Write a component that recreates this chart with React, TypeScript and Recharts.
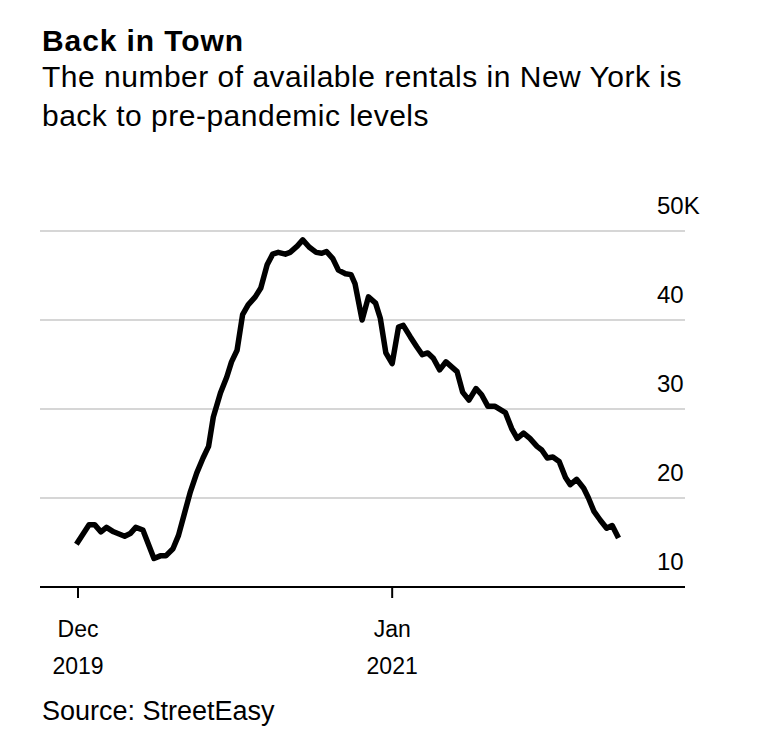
import { LineChart, Line, XAxis, YAxis, CartesianGrid } from 'recharts'

// Weekly count of available NYC rentals (thousands).
const dates = [
  '2019-11-29', '2019-12-15', '2019-12-22', '2019-12-30', '2020-01-06', '2020-01-15', '2020-01-29', '2020-02-05',
  '2020-02-12', '2020-02-21', '2020-03-06', '2020-03-14', '2020-03-21', '2020-03-30', '2020-04-06', '2020-04-13',
  '2020-04-21', '2020-04-29', '2020-05-07', '2020-05-14', '2020-05-20', '2020-05-29', '2020-06-06', '2020-06-12',
  '2020-06-19', '2020-06-26', '2020-07-03', '2020-07-12', '2020-07-19', '2020-07-27', '2020-08-03', '2020-08-10',
  '2020-08-19', '2020-08-25', '2020-09-03', '2020-09-10', '2020-09-18', '2020-09-27', '2020-10-04', '2020-10-10',
  '2020-10-18', '2020-10-25', '2020-11-03', '2020-11-10', '2020-11-15', '2020-11-24', '2020-12-02', '2020-12-11',
  '2020-12-17', '2020-12-24', '2021-01-01', '2021-01-09', '2021-01-15', '2021-01-24', '2021-02-01', '2021-02-08',
  '2021-02-15', '2021-02-22', '2021-03-02', '2021-03-10', '2021-03-24', '2021-03-31', '2021-04-08', '2021-04-17',
  '2021-04-24', '2021-05-02', '2021-05-11', '2021-05-24', '2021-06-01', '2021-06-08', '2021-06-16', '2021-06-24',
  '2021-07-03', '2021-07-09', '2021-07-16', '2021-07-23', '2021-07-31', '2021-08-08', '2021-08-14', '2021-08-22',
  '2021-08-31', '2021-09-06', '2021-09-13', '2021-09-21', '2021-09-29', '2021-10-06', '2021-10-14',
]
const rentals = [
  14.8, 17.0, 17.0, 16.2, 16.7, 16.2, 15.7, 16.0, 16.7, 16.4,
  13.2, 13.5, 13.5, 14.3, 15.8, 18.1, 20.7, 22.8, 24.5, 25.8,
  29.1, 31.8, 33.6, 35.3, 36.6, 40.6, 41.7, 42.6, 43.6, 46.2,
  47.4, 47.6, 47.4, 47.6, 48.3, 49.0, 48.2, 47.6, 47.5, 47.7,
  46.9, 45.6, 45.2, 45.1, 44.1, 40.0, 42.6, 41.9, 40.2, 36.3,
  35.1, 39.2, 39.4, 38.1, 37.0, 36.1, 36.3, 35.7, 34.4, 35.3,
  34.2, 31.9, 31.0, 32.3, 31.6, 30.3, 30.3, 29.6, 27.8, 26.7,
  27.3, 26.7, 25.8, 25.4, 24.5, 24.6, 24.1, 22.3, 21.5, 22.1,
  21.1, 20.0, 18.5, 17.5, 16.6, 16.9, 15.5,
]

const xDomain = ['2019-10-14', '2022-01-06']
const xTicks = ['2019-12-01', '2021-01-01']
const xTickLabels = [['Dec', '2019'], ['Jan', '2021']]
const yTicks = [10, 20, 30, 40, 50]

const ts = (d: string) => Date.parse(d + 'T00:00:00Z')
const data = dates.map((d, i) => ({ t: ts(d), v: rentals[i] }))

const FONT = '"Liberation Sans", Arial, Helvetica, sans-serif'

function XTick({ x, y, index }: any) {
  const [m, yr] = xTickLabels[index] ?? ['', '']
  return (
    <g>
      <text x={x} y={y + 39} textAnchor="middle" fontSize={23} fill="#000" fontFamily={FONT}>{m}</text>
      <text x={x} y={y + 76} textAnchor="middle" fontSize={23} fill="#000" fontFamily={FONT}>{yr}</text>
    </g>
  )
}

function YTick({ x, y, payload }: any) {
  const label = payload.value === 50 ? '50K' : String(payload.value)
  return (
    <text x={x - 28} y={y - 17} textAnchor="start" fontSize={24} fill="#000" fontFamily={FONT}>{label}</text>
  )
}

export default function App() {
  return (
    <div style={{ position: 'absolute', left: 0, top: 0, width: 760, height: 750, background: '#fff', fontFamily: FONT, color: '#000' }}>
      <div style={{ position: 'absolute', left: 42, top: 26, fontSize: 30, lineHeight: '30px', fontWeight: 700, letterSpacing: 0.9, whiteSpace: 'nowrap' }}>
        Back in Town
      </div>
      <div style={{ position: 'absolute', left: 42, top: 57, fontSize: 30, lineHeight: '39px', letterSpacing: 0.5, whiteSpace: 'nowrap' }}>
        The number of available rentals in New York is
        <br />
        back to pre-pandemic levels
      </div>
      <div style={{ position: 'absolute', left: 0, top: 0 }}>
        <LineChart width={760} height={700} data={data} margin={{ top: 231, right: 0, bottom: 83, left: 40 }}>
          <CartesianGrid horizontal vertical={false} stroke="#d6d6d6" strokeWidth={2} />
          <XAxis
            dataKey="t"
            type="number"
            scale="linear"
            domain={xDomain.map(ts)}
            ticks={xTicks.map(ts)}
            height={30}
            axisLine={{ stroke: '#000', strokeWidth: 2 }}
            tickLine={{ stroke: '#000', strokeWidth: 2 }}
            tickSize={11}
            tickMargin={0}
            tick={<XTick />}
            interval={0}
          />
          <YAxis
            orientation="right"
            domain={[10, 50]}
            ticks={yTicks}
            width={75}
            axisLine={false}
            tickLine={false}
            tickSize={0}
            tickMargin={0}
            tick={<YTick />}
            interval={0}
          />
          <Line
            dataKey="v"
            type="linear"
            stroke="#000"
            strokeWidth={5.5}
            strokeLinejoin="round"
            dot={false}
            activeDot={false}
            isAnimationActive={false}
          />
        </LineChart>
      </div>
      <div style={{ position: 'absolute', left: 42, top: 698, fontSize: 27, lineHeight: '27px', whiteSpace: 'nowrap' }}>
        Source: StreetEasy
      </div>
    </div>
  )
}
